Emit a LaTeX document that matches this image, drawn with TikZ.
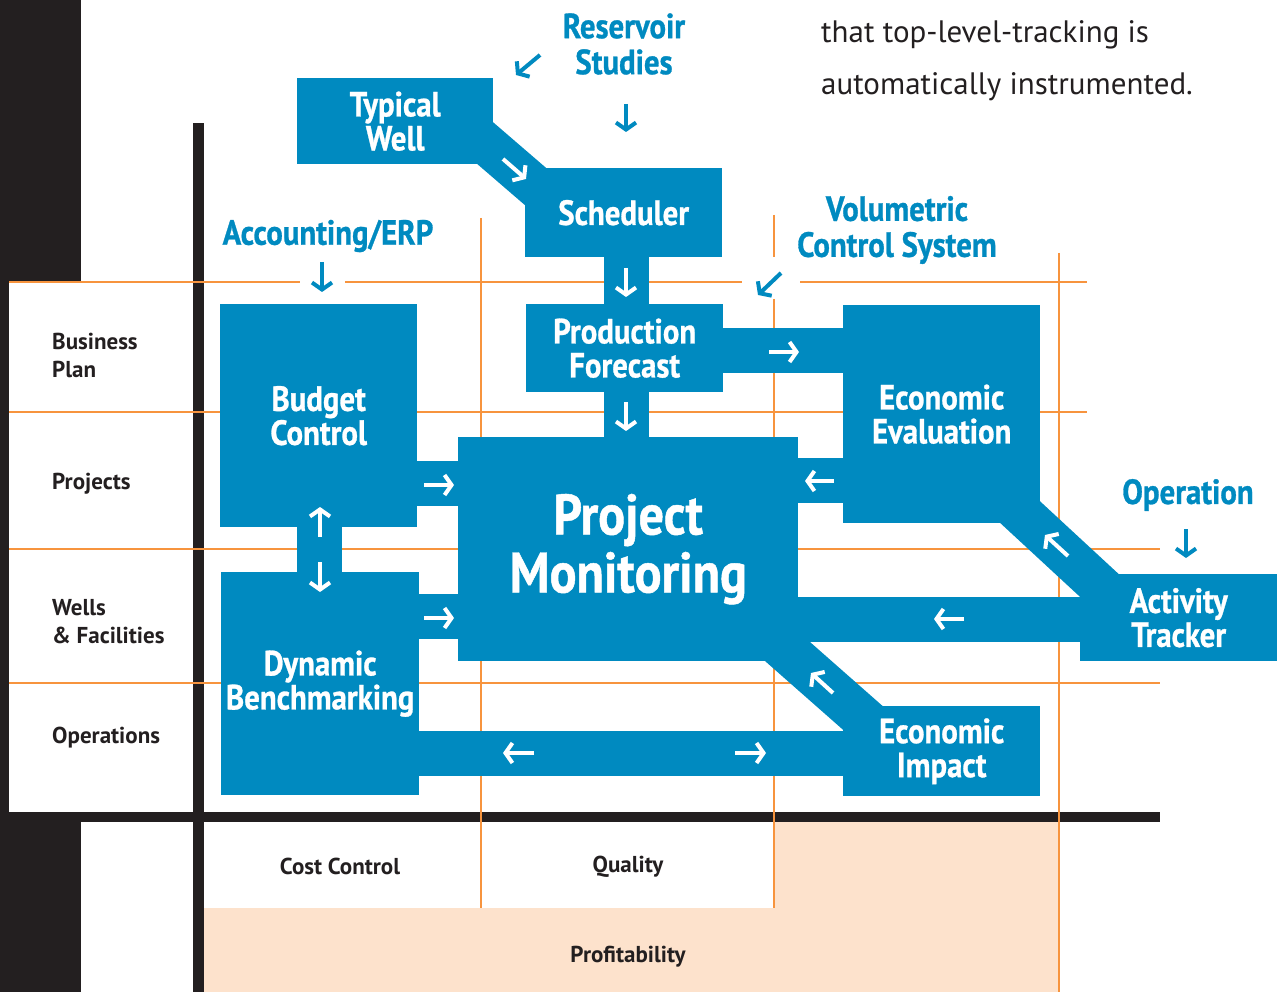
\documentclass[tikz,border=0pt]{standalone}
\usepackage{fontspec}
\usetikzlibrary{arrows.meta,calc}
\newfontfamily\condf[FakeStretch=0.88,FakeBold=0.8]{PT Sans Bold}
\newfontfamily\regf{PT Sans}
\newfontfamily\semif{PT Sans Bold}
\definecolor{bl}{RGB}{0,138,192}
\definecolor{orng}{RGB}{247,148,62}
\definecolor{peach}{RGB}{253,226,204}
\definecolor{blk}{RGB}{35,31,32}
\pgfdeclarelayer{back}
\pgfdeclarelayer{bands}
\pgfsetlayers{back,bands,main}
\begin{document}
\begin{tikzpicture}[x=1pt,y=-1pt,
  box/.style={fill=bl, inner sep=0pt, anchor=north west, text=white, align=center, font=\condf\fontsize{35}{34}\selectfont},
  band/.style={draw=bl, line width=45pt, shorten <=-3pt, shorten >=-3pt},
  dband/.style={draw=bl, line width=43pt},
  warr/.style={draw=white, line width=4pt, -{Straight Barb[length=7pt,width=20pt]}},
  barr/.style={draw=bl, line width=4pt, -{Straight Barb[length=7pt,width=20pt]}},
  blab/.style={text=bl, align=center, inner sep=0pt, font=\condf\fontsize{35}{36}\selectfont},
  rowlab/.style={text=blk, align=left, anchor=west, inner sep=0pt, font=\semif\fontsize{23}{28}\selectfont},
  collab/.style={text=blk, inner sep=0pt, font=\semif\fontsize{23}{28}\selectfont},
  gridline/.style={draw=orng, line width=2pt},
]
\useasboundingbox (0,0) rectangle (1286,992);

% ---------- background and grid ----------
\begin{pgfonlayer}{back}
\fill[white] (0,0) rectangle (1286,992);
\fill[blk] (0,0) rectangle (81,992);
\fill[white] (9,282) rectangle (193,812);
\fill[peach] (204,908) rectangle (1059,992);
\fill[peach] (774,822) rectangle (1059,908);
\fill[blk] (193,123) rectangle (204,992);
\fill[blk] (0,812) rectangle (1160,822);
\draw[gridline] (9,282) -- (300,282);
\draw[gridline] (345,282) -- (742,282);
\draw[gridline] (800,282) -- (1087,282);
\draw[gridline] (9,412) -- (1087,412);
\draw[gridline] (9,549) -- (1160,549);
\draw[gridline] (9,683) -- (1160,683);
\draw[gridline] (481,218) -- (481,908);
\draw[gridline] (774,215) -- (774,257);
\draw[gridline] (774,299) -- (774,908);
\draw[gridline] (1059,253) -- (1059,992);
\end{pgfonlayer}

% ---------- boxes ----------
\node[box, minimum width=196pt, minimum height=86pt] (tw) at (297,78) {Typical\\Well};
\node[box, minimum width=197pt, minimum height=89pt] (sched) at (525,168) {Scheduler};
\node[box, minimum width=197pt, minimum height=88pt] (pf) at (526,304) {Production\\Forecast};
\node[box, minimum width=197pt, minimum height=218pt] (ee) at (843,305) {Economic\\Evaluation};
\node[box, minimum width=340pt, minimum height=224pt, font=\condf\fontsize{57}{58}\selectfont] (pm) at (458,437) {Project\\Monitoring};
\node[box, minimum width=197pt, minimum height=223pt] (bc) at (220,304) {Budget\\Control};
\node[box, minimum width=198pt, minimum height=223pt] (db) at (221,572) {Dynamic\\Benchmarking};
\node[box, minimum width=197pt, minimum height=90pt] (ei) at (843,706) {Economic\\Impact};
\node[box, minimum width=197pt, minimum height=87pt] (at) at (1080,574) {Activity\\Tracker};

% ---------- bands ----------
\begin{pgfonlayer}{bands}
\coordinate (s1) at ($(sched.south)+(3,0)$);
\draw[band] (s1) -- (s1 |- pf.north);
\coordinate (s2) at ($(pf.south)+(2,0)$);
\draw[band] (s2) -- (s2 |- pm.north);
\coordinate (c1) at ($(pf.east)+(0,2)$);
\draw[band] (c1) -- (c1 -| ee.west);
\coordinate (c2) at ($(ee.west)+(0,66)$);
\draw[band] (c2) -- (c2 -| pm.east);
\coordinate (c3) at ($(bc.east)+(0,68)$);
\draw[band] (c3) -- (c3 -| pm.west);
\coordinate (c4) at ($(db.east)+(0,-67)$);
\draw[band] (c4) -- (c4 -| pm.west);
\coordinate (c5) at ($(bc.south)+(1,0)$);
\draw[band] (c5) -- (c5 |- db.north);
\coordinate (c6) at ($(db.east)+(0,70)$);
\draw[band] (c6) -- (c6 -| ei.west);
\coordinate (c7) at ($(at.west)+(0,1.5)$);
\draw[band] (c7) -- (c7 -| pm.east);
\draw[dband, line width=42pt] ($(tw.south east)+(-23,-34)$) -- ($(sched.north west)+(25,31)$);
\draw[dband] ($(ee.south east)+(-29.4,-19.7)$) -- ($(at.north west)+(26,17.6)$);
\draw[dband, line width=44pt] ($(pm.south east)+(-25,-22.3)$) -- ($(ei.north west)+(31.3,22)$);
\end{pgfonlayer}

% ---------- white flow arrows ----------
\draw[warr] (503,159) -- (526,179);
\draw[warr] (626,268) -- (626,297);
\draw[warr] (626,402) -- (626,431);
\draw[warr] (769,352) -- (799,352);
\draw[warr] (834,481) -- (805,481);
\draw[warr] (424,485) -- (454,485);
\draw[warr] (424,618) -- (454,618);
\draw[warr] (320,537) -- (320,507);
\draw[warr] (320,562) -- (320,592);
\draw[warr] (534,753) -- (503,753);
\draw[warr] (735,753) -- (766,753);
\draw[warr] (833,693) -- (811,673);
\draw[warr] (1068,556) -- (1045,535);
\draw[warr] (964,619) -- (934,619);

% ---------- blue outside labels ----------
\node[blab] (res) at (624,44) {Reservoir\\Studies};
\node[blab] (acc) at (328,236) {Accounting/ERP};
\node[blab] (vol) at (897,230) {Volumetric\\Control System};
\node[blab] (op) at (1188,495) {Operation};
\draw[barr] (540,55) -- (516,75);
\draw[barr] (626,104) -- (626,132);
\draw[barr] (322,262) -- (322,292);
\draw[barr] (781,273) -- (758,295);
\draw[barr] (1186,529) -- (1186,558);

% ---------- text ----------
\node[anchor=north west, inner sep=0pt, align=left, text=blk, font=\regf\fontsize{31}{52}\selectfont] (note) at (821,20) {that top-level-tracking is\\automatically instrumented.};
\node[rowlab] (r1) at (52,355) {Business\\Plan};
\node[rowlab] (r2) at (52,484) {Projects};
\node[rowlab] (r3) at (52,622) {Wells\\\& Facilities};
\node[rowlab] (r4) at (52,738) {Operations};
\node[collab] (k1) at (340,866) {Cost Control};
\node[collab] (k2) at (628,867) {Quality};
\node[collab] (k3) at (628,957) {Profitability};
\end{tikzpicture}
\end{document}
